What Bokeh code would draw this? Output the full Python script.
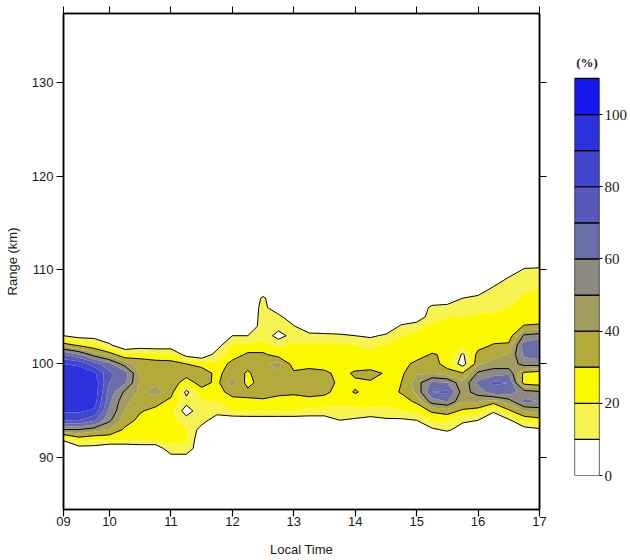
import numpy as np
from bokeh.plotting import figure
from bokeh.models import Range1d, LinearAxis, FixedTicker
from bokeh.layouts import row
from bokeh.core.properties import value
from bokeh.embed import file_html
from bokeh.resources import INLINE

# ---- data ----
times = [9.25, 9.5, 9.75, 10.0, 10.25, 10.5, 10.75, 11.0, 11.25, 11.5, 11.75,
         12.0, 12.25, 12.5, 12.75, 13.0, 13.25, 13.5, 13.75, 14.0, 14.25, 14.5,
         14.75, 15.0, 15.25, 15.5, 15.75, 16.0, 16.25, 16.5, 16.75, 17.0]
ranges_km = [89, 90, 91, 92, 93, 94, 95, 96, 97, 98, 99, 100, 101, 102, 103,
             104, 105, 106, 107, 108, 109, 110, 111, 112]

# percentage profiles, one list per time, range 89 -> 112 km
profiles = [
    [0, 0, 0, 12, 50, 80, 92, 96, 98, 98, 96, 90, 70, 35, 10, 0, 0, 0, 0, 0, 0, 0, 0, 0],
    [0, 0, 5, 25, 50, 80, 92, 97, 98, 98, 96, 88, 60, 28, 5, 0, 0, 0, 0, 0, 0, 0, 0, 0],
    [0, 0, 5, 22, 45, 72, 88, 95, 97, 97, 92, 75, 45, 22, 5, 0, 0, 0, 0, 0, 0, 0, 0, 0],
    [0, 0, 0, 22, 40, 52, 58, 62, 65, 70, 72, 62, 35, 12, 0, 0, 0, 0, 0, 0, 0, 0, 0, 0],
    [0, 0, 0, 22, 28, 35, 40, 42, 48, 62, 65, 45, 22, 0, 0, 0, 0, 0, 0, 0, 0, 0, 0, 0],
    [0, 0, 2, 22, 25, 27, 31, 36, 38, 38, 38, 36, 25, 2, 0, 0, 0, 0, 0, 0, 0, 0, 0, 0],
    [0, 0, 2, 22, 24, 25, 27, 34, 44, 38, 37, 35, 22, 2, 0, 0, 0, 0, 0, 0, 0, 0, 0, 0],
    [0, 5, 18, 22, 23, 23, 24, 27, 34, 37, 37, 34, 22, 2, 0, 0, 0, 0, 0, 0, 0, 0, 0, 0],
    [0, 5, 18, 22, 21, 15, 4, 14, 7, 24, 35, 30, 5, 0, 0, 0, 0, 0, 0, 0, 0, 0, 0, 0],
    [0, 0, 0, 0, 5, 15, 18, 20, 25, 35, 38, 25, 0, 0, 0, 0, 0, 0, 0, 0, 0, 0, 0, 0],
    [0, 0, 0, 0, 0, 3, 15, 20, 25, 27, 26, 22, 15, 5, 0, 0, 0, 0, 0, 0, 0, 0, 0, 0],
    [0, 0, 0, 0, 0, 2, 20, 25, 35, 45, 38, 34, 24, 21, 10, 0, 0, 0, 0, 0, 0, 0, 0, 0],
    [0, 0, 0, 0, 0, 3, 20, 28, 33, 26, 28, 35, 32, 22, 10, 0, 0, 0, 0, 0, 0, 0, 0, 0],
    [0, 0, 0, 0, 0, 3, 20, 28, 35, 36, 38, 38, 32, 22, 18, 16, 15, 14, 12, 0, 0, 0, 0, 0],
    [0, 0, 0, 0, 0, 3, 20, 27, 32, 35, 38, 44, 25, 18, 5, 15, 14, 0, 0, 0, 0, 0, 0, 0],
    [0, 0, 0, 0, 0, 3, 20, 25, 32, 35, 32, 25, 24, 22, 15, 11, 0, 0, 0, 0, 0, 0, 0, 0],
    [0, 0, 0, 0, 0, 3, 18, 25, 35, 38, 35, 25, 24, 22, 14, 0, 0, 0, 0, 0, 0, 0, 0, 0],
    [0, 0, 0, 0, 0, 3, 18, 24, 33, 36, 33, 24, 24, 22, 13, 0, 0, 0, 0, 0, 0, 0, 0, 0],
    [0, 0, 0, 0, 0, 10, 18, 22, 25, 27, 26, 24, 24, 22, 12, 0, 0, 0, 0, 0, 0, 0, 0, 0],
    [0, 0, 0, 0, 0, 8, 18, 24, 31, 28, 32, 24, 23, 20, 10, 0, 0, 0, 0, 0, 0, 0, 0, 0],
    [0, 0, 0, 0, 0, 5, 18, 24, 26, 29, 33, 25, 23, 18, 8, 0, 0, 0, 0, 0, 0, 0, 0, 0],
    [0, 0, 0, 0, 0, 8, 18, 22, 25, 28, 29, 25, 23, 21, 12, 0, 0, 0, 0, 0, 0, 0, 0, 0],
    [0, 0, 0, 0, 0, 8, 20, 25, 31, 30, 28, 26, 24, 22, 20, 12, 0, 0, 0, 0, 0, 0, 0, 0],
    [0, 0, 0, 0, 0, 10, 22, 32, 42, 45, 39, 33, 25, 22, 22, 18, 0, 0, 0, 0, 0, 0, 0, 0],
    [0, 0, 0, 0, 8, 20, 32, 55, 70, 62, 39, 35, 31, 24, 23, 21, 18, 13, 0, 0, 0, 0, 0, 0],
    [0, 0, 0, 0, 12, 22, 35, 60, 72, 60, 35, 25, 28, 22, 23, 22, 20, 15, 0, 0, 0, 0, 0, 0],
    [0, 0, 0, 0, 5, 12, 28, 41, 45, 42, 31, 3, 8, 24, 23, 22, 20, 16, 10, 0, 0, 0, 0, 0],
    [0, 0, 0, 0, 0, 10, 25, 41, 55, 62, 52, 38, 34, 25, 23, 22, 21, 18, 14, 0, 0, 0, 0, 0],
    [0, 0, 0, 0, 0, 0, 12, 35, 65, 72, 55, 45, 35, 31, 24, 22, 21, 19, 16, 13, 0, 0, 0, 0],
    [0, 0, 0, 0, 0, 8, 28, 45, 65, 70, 58, 42, 41, 32, 24, 22, 21, 20, 18, 16, 13, 0, 0, 0],
    [0, 0, 0, 0, 5, 22, 41, 62, 55, 25, 27, 55, 62, 65, 52, 31, 23, 22, 21, 19, 16, 12, 0, 0],
    [0, 0, 0, 0, 8, 25, 45, 60, 52, 22, 24, 55, 65, 68, 55, 32, 24, 23, 22, 20, 17, 13, 0, 0],
]

levels = [0, 10, 20, 30, 40, 50, 60, 70, 80, 90, 100, 110]
band_colors = ["#ffffff", "#f7f350", "#fbf800", "#b4aa3c", "#a29e62", "#8e8a84",
               "#6a6ea8", "#5659ba", "#3f45cc", "#2c33dc", "#1616ee"]
line_levels = [10, 30, 50]
cbar_ticks = [0, 20, 40, 60, 80, 100]

x_ticks = [9.25, 10, 11, 12, 13, 14, 15, 16, 17]
x_tick_labels = ["09", "10", "11", "12", "13", "14", "15", "16", "17"]
y_ticks = [90, 100, 110, 120, 130]

z = np.array(profiles, dtype=float).T  # (ranges, times)

SANS = "Liberation Sans"
SERIF = "Liberation Serif"
INK = "#1a1a1a"

# ---- main contour figure ----
p = figure(title=None, frame_width=476, frame_height=496,
           x_range=Range1d(9.25, 17.0), y_range=Range1d(84.5, 137.3),
           min_border_left=63, min_border_right=11, min_border_top=13,
           min_border_bottom=51, output_backend="svg", toolbar_location=None)
p.grid.visible = False
p.background_fill_color = "white"
p.outline_line_color = "black"
p.outline_line_width = 1.5

p.contour(times, ranges_km, z, levels=levels[1:], fill_color=band_colors[1:],
          line_color=None)
p.contour(times, ranges_km, z, levels=line_levels, line_color="black",
          line_width=1)

p.xaxis.ticker = FixedTicker(ticks=x_ticks)
p.xaxis.major_label_overrides = {t: lab for t, lab in zip(x_ticks, x_tick_labels)}
p.xaxis.axis_label = "Local Time"
p.yaxis.ticker = FixedTicker(ticks=y_ticks)
p.yaxis.axis_label = "Range (km)"

for ax in (p.xaxis[0], p.yaxis[0]):
    ax.major_tick_out = 7
    ax.major_tick_in = 0
    ax.minor_tick_out = 0
    ax.minor_tick_in = 0
    ax.axis_line_width = 1.5
    ax.major_tick_line_width = 1.2
    ax.major_label_text_font = SANS
    ax.major_label_text_font_size = "13px"
    ax.major_label_text_color = INK
    ax.axis_label_text_font = SANS
    ax.axis_label_text_font_size = "13px"
    ax.axis_label_text_font_style = "normal"
    ax.axis_label_text_color = INK
p.xaxis.major_label_standoff = 0
p.xaxis.axis_label_standoff = 13
p.yaxis.major_label_standoff = 3
p.yaxis.axis_label_standoff = 9

top_ax = LinearAxis(ticker=FixedTicker(ticks=x_ticks), major_tick_out=7,
                    major_tick_in=0, minor_tick_out=0, minor_tick_in=0,
                    major_label_text_font_size="1px", major_label_text_color=None,
                    major_label_standoff=0, axis_line_width=1.5)
right_ax = LinearAxis(ticker=FixedTicker(ticks=y_ticks), major_tick_out=7,
                      major_tick_in=0, minor_tick_out=0, minor_tick_in=0,
                      major_label_text_font_size="1px", major_label_text_color=None,
                      major_label_standoff=0, axis_line_width=1.5)
p.add_layout(top_ax, "above")
p.add_layout(right_ax, "right")

# ---- colour bar figure (frame top is aligned with the main frame) ----
cb = figure(title=None, frame_width=25, frame_height=462,
            x_range=Range1d(0, 1), y_range=Range1d(0, 128.0),
            min_border_left=24, min_border_right=6, min_border_top=13,
            min_border_bottom=85, output_backend="svg", toolbar_location=None)
cb.grid.visible = False
cb.outline_line_color = None
cb.xaxis.visible = False
cb.yaxis.visible = False
cb.quad(left=0, right=1, bottom=levels[:-1], top=levels[1:],
        fill_color=band_colors, line_color="black", line_width=1.2)
cb.text(x=[0.5], y=[levels[-1] + 4.4], text=["(%)"], text_align="center",
        text_baseline="middle", text_font=value(SERIF), text_font_size="13px",
        text_font_style="bold", text_color=INK)
cb_ax = LinearAxis(ticker=FixedTicker(ticks=cbar_ticks), axis_line_color=None,
                   major_tick_out=3, major_tick_in=0, minor_tick_out=0,
                   minor_tick_in=0, major_label_standoff=2,
                   major_label_text_font=SERIF, major_label_text_font_size="15px",
                   major_label_text_color=INK)
cb.add_layout(cb_ax, "right")

layout = row(p, cb)
open("out.html", "w").write(file_html(layout, INLINE))
